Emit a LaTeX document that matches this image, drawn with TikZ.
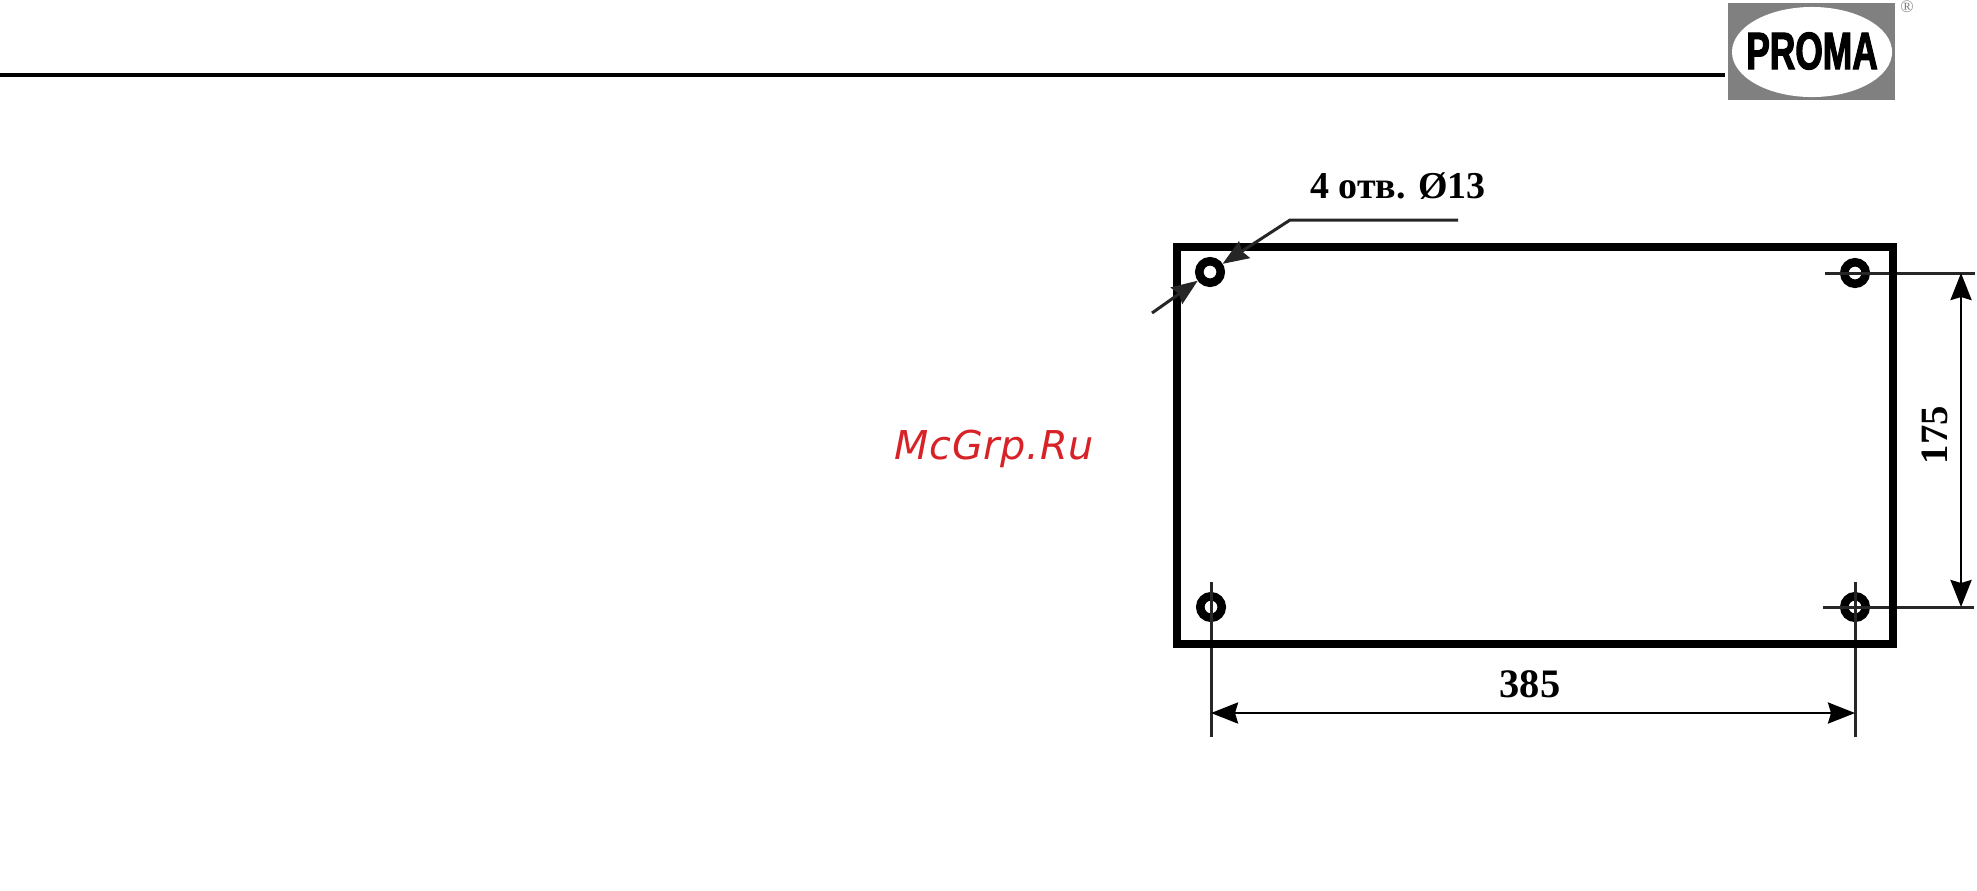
\documentclass[tikz,border=0pt]{standalone}
\usepackage{fontspec}
\setmainfont{Liberation Serif}
\newfontfamily\markfont[LetterSpace=2]{DejaVu Sans}
\newfontfamily\logofont[FakeStretch=0.67,FakeBold=2]{Liberation Sans}
\usepackage{tikz}
\usetikzlibrary{arrows.meta,shapes.geometric}

\definecolor{logogray}{RGB}{128,128,128}
\definecolor{markred}{RGB}{215,35,40}

\tikzset{
    holemark/.style={circle,draw=black,line width=0.085cm,fill=white,inner sep=0pt,minimum size=0.215cm},
    thinline/.style={black!85,line width=0.03cm},
    dimline/.style={black,line width=0.028cm,{Stealth[length=0.27cm,width=0.21cm,inset=0.03cm]}-{Stealth[length=0.27cm,width=0.21cm,inset=0.03cm]}},
    dimtext/.style={inner sep=0pt,font=\bfseries\fontsize{11.5pt}{12pt}\selectfont}
}

\begin{document}
\begin{tikzpicture}[x=0.01cm,y=-0.01cm]
        \useasboundingbox (0,0) rectangle (1977,890);

        \draw[black,line width=0.04cm] (0,75) -- (1725,75);

        \fill[logogray] (1728,3) rectangle (1895,100);
        \node[ellipse,fill=white,inner sep=0pt,minimum width=1.6cm,minimum height=0.9cm] (logo) at (1812,52) {};
        \node[font=\logofont\bfseries\fontsize{15pt}{16pt}\selectfont,inner sep=0pt] (logotext) at (1812,51) {PROMA};
        \node[text=logogray,font=\fontsize{5pt}{6pt}\selectfont,inner sep=0pt] (logoreg) at (1907,7) {®};

        \node[text=markred,font=\markfont\itshape\fontsize{11.3pt}{12pt}\selectfont,inner sep=0pt] (mark) at (994,449) {McGrp.Ru};

        \coordinate (leaderlow) at (1152,313);
        \coordinate (leaderknee) at (1290,220);
        \coordinate (leaderend) at (1458,220);
        \coordinate (extTRleft) at (1825,273);
        \coordinate (extTRright) at (1975,273);
        \coordinate (extBRleft) at (1823,607);
        \coordinate (extBRright) at (1974,607);
        \coordinate (extBLtop) at (1211,582);
        \coordinate (extBLlow) at (1211,737);
        \coordinate (extBRtop) at (1855,582);
        \coordinate (extBRlow) at (1855,737);
        \coordinate (dimVtop) at (1961,273);
        \coordinate (dimVlow) at (1961,607);
        \coordinate (dimHleft) at (1211,713);
        \coordinate (dimHright) at (1855,713);

        \foreach \name/\x/\y in {holeTL/1210/272,holeTR/1855/273,holeBL/1211/607,holeBR/1855/607}
            \node[holemark] (\name) at (\x,\y) {};

        \draw[thinline] (extTRleft) -- (extTRright);
        \draw[thinline] (extBRleft) -- (extBRright);
        \draw[thinline] (extBLtop) -- (extBLlow);
        \draw[thinline] (extBRtop) -- (extBRlow);

        \draw[black,line width=0.072cm] (1177,247) rectangle (1893,644);

        \draw[thinline,-{Stealth[length=0.26cm,width=0.2cm,inset=0.03cm]}] (leaderlow) -- (holeTL);
        \draw[thinline,-{Stealth[length=0.26cm,width=0.2cm,inset=0.03cm]}] (leaderend) -- (leaderknee) -- (holeTL);

        \draw[dimline] (dimVtop) -- (dimVlow);
        \draw[dimline] (dimHleft) -- (dimHright);

        \node[dimtext,font=\bfseries\fontsize{10.8pt}{12pt}\selectfont] (labelholes) at (1398,186) {4 отв. Ø13};
        \node[dimtext] (labelwidth) at (1530,684) {385};
        \node[dimtext,rotate=90,font=\bfseries\fontsize{11pt}{12pt}\selectfont] (labelheight) at (1935,435) {175};
    \end{tikzpicture}
\end{document}
